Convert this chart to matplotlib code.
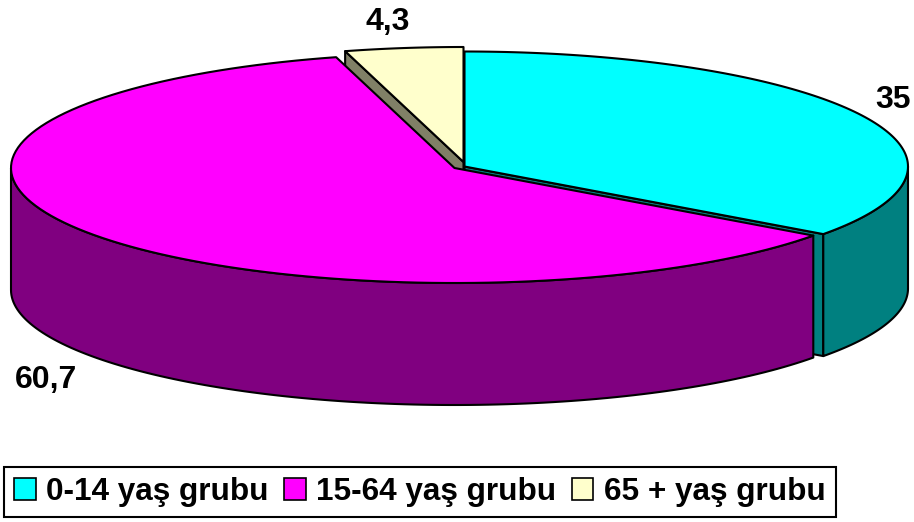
import numpy as np
import matplotlib.pyplot as plt
from matplotlib.patches import Polygon, Patch

plt.rcParams['font.family'] = ['Liberation Sans', 'DejaVu Sans']
plt.rcParams['font.weight'] = 'bold'

# data
categories = ['0-14 yaş grubu', '15-64 yaş grubu', '65 + yaş grubu']
values = [35, 60.7, 4.3]
value_labels = ['35', '60,7', '4,3']

# style / layout (pixel units)
top_colors = ['#00FFFF', '#FF00FF', '#FFFFCC']
side_colors = ['#008080', '#800080', '#808066']
offsets = [(6, -0.5), (-4, 1), (5, -5)]
label_pos = [(893, 108), (46, 388), (388, 30)]

cx, cy = 458.5, 167
rx, ry = 443.5, 115
depth = 122
start = 90   # 12 o'clock, clockwise
lw = 1.5
fs = 23

fig = plt.figure(figsize=(9.14, 5.22), dpi=100)
ax = fig.add_axes([0, 0, 1, 1])
ax.set_xlim(0, 914)
ax.set_ylim(522, 0)
ax.axis('off')


def rim(t1, t2, dx, dy, z=0, n=120):
    t = np.radians(np.linspace(t1, t2, n))
    return np.column_stack([cx + dx + rx * np.cos(t), cy + dy - ry * np.sin(t) + z])


total = sum(values)
slices = []
a2 = start
for i, v in enumerate(values):
    a1 = a2 - v / total * 360
    slices.append((i, a1, a2))
    a2 = a1

# back to front
slices.sort(key=lambda s: -np.sin(np.radians((s[1] + s[2]) / 2)))

for i, a1, a2 in slices:
    dx, dy = offsets[i]
    c = np.array([cx + dx, cy + dy])
    # radial cut faces
    for a, vis in ((a1, np.cos(np.radians(a1)) > 0), (a2, np.cos(np.radians(a2)) < 0)):
        if vis:
            p = rim(a, a, dx, dy, n=1)[0]
            face = [c, p, p + [0, depth], c + [0, depth]]
            ax.add_patch(Polygon(face, closed=True, fc=side_colors[i], ec='black', lw=lw, joinstyle='round'))
    # outer wall (front half only)
    for k in range(-2, 2):
        lo = max(a1, 180 + 360 * k)
        hi = min(a2, 360 + 360 * k)
        if hi > lo:
            top = rim(lo, hi, dx, dy)
            bot = rim(hi, lo, dx, dy, z=depth)
            ax.add_patch(Polygon(np.vstack([top, bot]), closed=True, fc=side_colors[i],
                                 ec='black', lw=lw, joinstyle='round'))
    # top face
    pts = np.vstack([c, rim(a1, a2, dx, dy)])
    ax.add_patch(Polygon(pts, closed=True, fc=top_colors[i], ec='black', lw=lw, joinstyle='round'))

for i, lab in enumerate(value_labels):
    ax.text(label_pos[i][0], label_pos[i][1], lab, fontsize=fs, fontweight='bold',
            ha='center', va='baseline')

handles = [Patch(facecolor=top_colors[i], edgecolor='black', lw=1.2) for i in range(len(categories))]
leg = fig.legend(handles, categories, ncol=3, loc='lower left', bbox_to_anchor=(4 / 914, 5 / 522),
                 fontsize=22.7, frameon=True, fancybox=False, edgecolor='black', framealpha=1,
                 handlelength=0.68, handleheight=0.68, handletextpad=0.33, columnspacing=0.5,
                 borderpad=0.32, borderaxespad=0)
leg.get_frame().set_linewidth(1.5)

plt.savefig('out.png', dpi=100)
